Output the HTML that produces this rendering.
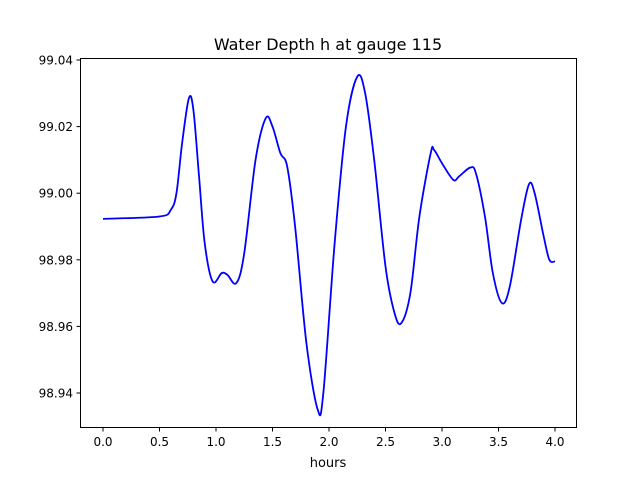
<!DOCTYPE html>
<html><head><meta charset="utf-8"><style>
body{margin:0;background:#fff;}
svg{display:block;font-family:"DejaVu Sans","Liberation Sans",sans-serif;}
</style></head><body>
<svg id="chart" width="640" height="480" viewBox="0 0 640 480">
<rect width="640" height="480" fill="#fff"/>
<text x="328" y="50" text-anchor="middle" font-size="16">Water Depth h at gauge 115</text>
<text x="328" y="467" text-anchor="middle" font-size="13">hours</text>
<g id="ticks"></g>
<path id="line" fill="none" stroke="#0000ff" stroke-width="1.8"/>
<rect x="80.5" y="58.5" width="496" height="369" fill="none" stroke="#000" stroke-width="1"/>
</svg>
<script>
const xTicks=[0,0.5,1,1.5,2,2.5,3,3.5,4];
const xTickLabels=["0.0","0.5","1.0","1.5","2.0","2.5","3.0","3.5","4.0"];
const yTicks=[98.94,98.96,98.98,99.00,99.02,99.04];
const yTickLabels=["98.94","98.96","98.98","99.00","99.02","99.04"];
const hours=[0,0.5,0.6,0.65,0.7,0.76,0.8,0.85,0.9,0.97,1.05,1.1,1.18,1.25,1.35,1.44,1.5,1.57,1.63,1.7,1.8,1.9,1.95,2.05,2.15,2.25,2.32,2.4,2.5,2.58,2.64,2.72,2.8,2.9,2.93,3.0,3.1,3.15,3.25,3.3,3.38,3.45,3.53,3.6,3.7,3.77,3.82,3.9,3.95,4.0];
const depth=[98.9923,98.993,98.995,99.0,99.015,99.0285,99.025,99.005,98.985,98.9735,98.976,98.9755,98.973,98.982,99.01,99.0225,99.02,99.012,99.008,98.99,98.955,98.935,98.94,98.985,99.02,99.035,99.03,99.01,98.978,98.964,98.961,98.97,98.993,99.012,99.013,99.009,99.004,99.005,99.0077,99.006,98.993,98.976,98.967,98.972,98.992,99.0027,99.0,98.987,98.98,98.9795];
const X=v=>103+v*113;
const Y=v=>60+(99.04-v)/0.1*333;
const NS="http://www.w3.org/2000/svg";
const g=document.getElementById('ticks');
function mk(t,a){const e=document.createElementNS(NS,t);for(const k in a)e.setAttribute(k,a[k]);return e;}
xTicks.forEach((t,i)=>{
 const l=mk('line',{x1:X(t),x2:X(t),y1:427.5,y2:431.5,stroke:'#000'});
 
 
 g.appendChild(l);
 const tx=mk('text',{x:X(t),y:446,'text-anchor':'middle','font-size':'12'});
 tx.textContent=xTickLabels[i];
 
 
 g.appendChild(tx);
});
yTicks.forEach((t,i)=>{
 const l=mk('line',{x1:76.5,x2:80.5,y1:Y(t),y2:Y(t),stroke:'#000'});
 
 
 g.appendChild(l);
 const tx=mk('text',{x:73,y:Y(t)+4.5,'text-anchor':'end','font-size':'12'});
 tx.textContent=yTickLabels[i];
 
 
 g.appendChild(tx);
});
const P=hours.map((h,i)=>[X(h),Y(depth[i])]);
let d='M'+P[0][0]+','+P[0][1];
for(let i=0;i<P.length-1;i++){
 const p0=P[Math.max(0,i-1)],p1=P[i],p2=P[i+1],p3=P[Math.min(P.length-1,i+2)];
 const c1=[p1[0]+(p2[0]-p0[0])/6,p1[1]+(p2[1]-p0[1])/6];
 const c2=[p2[0]-(p3[0]-p1[0])/6,p2[1]-(p3[1]-p1[1])/6];
 d+=` C${c1[0]},${c1[1]} ${c2[0]},${c2[1]} ${p2[0]},${p2[1]}`;
}
document.getElementById('line').setAttribute('d',d);
</script>
</body></html>
